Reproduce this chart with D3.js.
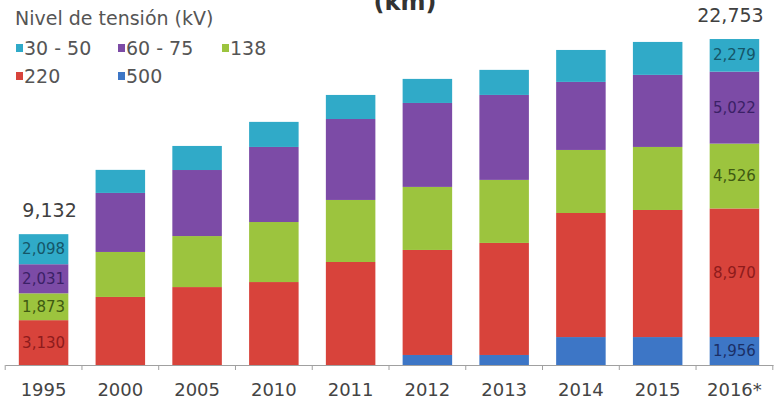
<!DOCTYPE html>
<html><head><meta charset="utf-8">
<script src="https://cdn.jsdelivr.net/npm/d3@7"></script>
<style>html,body{margin:0;padding:0;background:#fff;}svg{display:block;font-family:"DejaVu Sans",sans-serif;}</style>
</head><body>
<svg id="chart" width="776" height="400"></svg>
<script>
const years = ["1995","2000","2005","2010","2011","2012","2013","2014","2015","2016*"];
const s500  = [0, 0, 0, 0, 0, 700, 700, 1950, 1950, 1956];
const s220  = [3130, 4750, 5440, 5790, 7190, 7330, 7820, 8660, 8870, 8970];
const s138  = [1873, 3140, 3560, 4190, 4330, 4400, 4400, 4400, 4400, 4526];
const s6075 = [2031, 4120, 4610, 5240, 5650, 5860, 5930, 4750, 5030, 5022];
const s3050 = [2098, 1610, 1680, 1750, 1680, 1680, 1750, 2230, 2300, 2279];
const seriesNames = ["500","220","138","60 - 75","30 - 50"];
const seriesColors = ["#3d76c6","#d8433b","#9cc43e","#7c4ba6","#30aac8"];
const labelColors = ["#1b2f66","#8e1b1b","#3f5a12","#3b2166","#155668"];
const labelledYears = ["1995","2016*"];
const legendOrder = [["30 - 50","60 - 75","138"],["220","500"]];
const legendTitle = "Nivel de tensión (kV)";
const titleText = "(km)";

const svg = d3.select("#chart");
const base = 365;
const x = d3.scaleBand().domain(years).range([5, 773]).paddingInner(0.355).paddingOuter(0.18);
const y = d3.scaleLinear().domain([0, 25000]).range([base, base - 25000/69.8]);

const rows = years.map((yr,i)=>({year:yr,"500":s500[i],"220":s220[i],"138":s138[i],"60 - 75":s6075[i],"30 - 50":s3050[i]}));
const stack = d3.stack().keys(seriesNames)(rows);

stack.forEach((layer,li)=>{
  svg.append("g").selectAll("rect").data(layer).join("rect")
    .attr("x", d=>x(d.data.year))
    .attr("width", x.bandwidth())
    .attr("y", d=>y(d[1]))
    .attr("height", d=>Math.max(0, y(d[0])-y(d[1])))
    .attr("fill", seriesColors[li]);
});

stack.forEach((layer,li)=>{
  svg.append("g").selectAll("text").data(layer.filter(d=>labelledYears.includes(d.data.year) && d[1]-d[0]>0)).join("text")
    .attr("x", d=>x(d.data.year)+x.bandwidth()/2)
    .attr("y", d=>(y(d[0])+y(d[1]))/2+5)
    .attr("text-anchor","middle")
    .attr("font-size",15)
    .attr("fill", labelColors[li])
    .text(d=>d3.format(",")(d[1]-d[0]));
});

const totals = years.map((yr,i)=>({year:yr,total:s500[i]+s220[i]+s138[i]+s6075[i]+s3050[i]}));
svg.append("g").selectAll("text").data(totals.filter(d=>labelledYears.includes(d.year))).join("text")
  .attr("x", d=>x(d.year)+x.bandwidth()/2 + (d.year==="1995"?6:-4))
  .attr("y", d=>y(d.total)-17)
  .attr("text-anchor","middle")
  .attr("font-size",19)
  .attr("fill","#404040")
  .text(d=>d3.format(",")(d.total));

const axis = svg.append("g").attr("transform",`translate(0,${base})`)
  .call(d3.axisBottom(x).tickSize(0).tickPadding(0).tickFormat(""));
axis.select(".domain").attr("stroke","#a0a0a0");
const step = x.step();
const bounds = years.map((yr)=>x(yr)-(step-x.bandwidth())/2).concat([x(years[years.length-1])+x.bandwidth()+(step-x.bandwidth())/2]);
svg.append("g").selectAll("line").data(bounds).join("line")
  .attr("x1",d=>d).attr("x2",d=>d).attr("y1",base).attr("y2",base+5)
  .attr("stroke","#a0a0a0");
svg.append("g").selectAll("text").data(years).join("text")
  .attr("x", d=>x(d)+x.bandwidth()/2)
  .attr("y", 396)
  .attr("text-anchor","middle")
  .attr("font-size",18)
  .attr("fill","#444")
  .text(d=>d);

svg.append("text").attr("x",405).attr("y",10).attr("text-anchor","middle")
  .attr("font-size",24).attr("font-weight","bold").attr("fill","#333").text(titleText);

svg.append("text").attr("x",15).attr("y",25).attr("font-size",19).attr("fill","#555").text(legendTitle);
const colX = [16,118,222];
legendOrder.forEach((row,ri)=>{
  row.forEach((name,ci)=>{
    const idx = seriesNames.indexOf(name);
    const yy = 55 + ri*28;
    svg.append("rect").attr("x",colX[ci]).attr("y",yy-11).attr("width",7).attr("height",8).attr("fill",seriesColors[idx]);
    svg.append("text").attr("x",colX[ci]+8).attr("y",yy).attr("font-size",19).attr("fill","#555").text(name);
  });
});
</script>
</body></html>
